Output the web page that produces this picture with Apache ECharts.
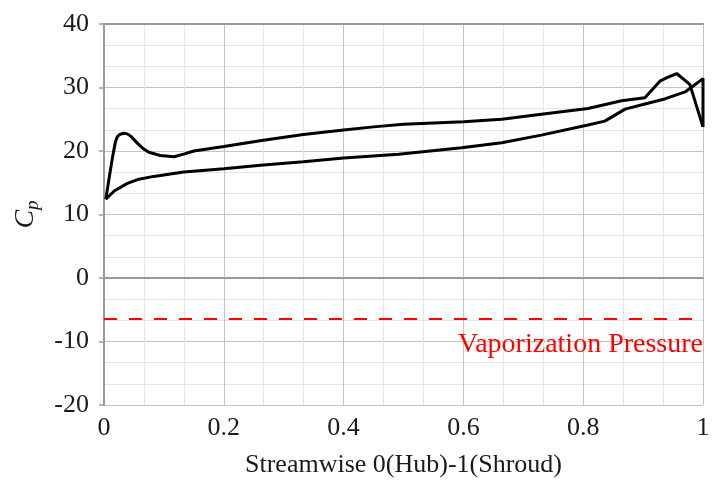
<!DOCTYPE html>
<html>
<head>
<meta charset="utf-8">
<script src="https://cdn.jsdelivr.net/npm/echarts@6/dist/echarts.min.js"></script>
<style>
  html, body { margin: 0; padding: 0; background: #fff; }
  #main { width: 718px; height: 483px; }
</style>
</head>
<body>
<div id="main"></div>
<script>
// suction side (upper branch), streamwise position and Cp
var upperX = [0.003, 0.009, 0.014, 0.019, 0.022, 0.026, 0.033, 0.039, 0.045, 0.056, 0.065, 0.075, 0.094, 0.117, 0.133, 0.15, 0.2, 0.266, 0.333, 0.4, 0.45, 0.5, 0.55, 0.6, 0.664, 0.73, 0.808, 0.864, 0.903, 0.928, 0.939, 0.956, 0.978, 1.0];
var upperY = [12.4, 16.0, 18.9, 21.4, 22.2, 22.6, 22.8, 22.7, 22.3, 21.2, 20.4, 19.8, 19.3, 19.1, 19.5, 20.0, 20.7, 21.7, 22.6, 23.3, 23.8, 24.2, 24.4, 24.6, 25.0, 25.8, 26.7, 27.9, 28.4, 31.0, 31.5, 32.2, 30.5, 23.8];
// pressure side (lower branch)
var lowerX = [0.003, 0.017, 0.039, 0.056, 0.083, 0.133, 0.2, 0.266, 0.333, 0.4, 0.492, 0.597, 0.664, 0.73, 0.808, 0.836, 0.87, 0.903, 0.936, 0.97, 0.983, 1.0, 1.0];
var lowerY = [12.4, 13.7, 14.9, 15.5, 16.0, 16.7, 17.2, 17.8, 18.3, 18.9, 19.5, 20.5, 21.3, 22.5, 24.1, 24.7, 26.6, 27.4, 28.2, 29.3, 30.2, 31.4, 23.8];
var vaporCp = -6.4;
var xTicks = [0, 0.2, 0.4, 0.6, 0.8, 1];
var yTicks = [-20, -10, 0, 10, 20, 30, 40];

var serif = 'Liberation Serif';

function pairs(xs, ys) {
  var out = [];
  for (var i = 0; i < xs.length; i++) out.push([xs[i], ys[i]]);
  return out;
}

var chart = echarts.init(document.getElementById('main'));
var option = {
  animation: false,
  grid: { left: 104, right: 15, top: 24, bottom: 78, outerBoundsMode: 'none', containLabel: false },
  xAxis: [{
    type: 'value',
    min: xTicks[0], max: xTicks[xTicks.length - 1], interval: 0.2,
    name: 'Streamwise 0(Hub)-1(Shroud)',
    nameLocation: 'middle', nameGap: 47,
    nameTextStyle: { fontFamily: serif, fontSize: 26, color: '#1a1a1a' },
    axisLine: { show: true, lineStyle: { color: '#999', width: 2 } },
    axisTick: { show: false },
    axisLabel: {
      fontFamily: serif, fontSize: 26, color: '#1a1a1a', margin: 10,
      formatter: function (v) { return String(v); }
    },
    splitLine: { show: true, lineStyle: { color: '#c4c4c4', width: 1 } },
    minorTick: { show: false, splitNumber: 3 },
    minorSplitLine: { show: true, lineStyle: { color: '#e6e6e6', width: 1 } }
  }, {
    type: 'value', position: 'top',
    min: 0, max: 1,
    axisLine: { show: true, lineStyle: { color: '#999', width: 2 } },
    axisTick: { show: false }, axisLabel: { show: false }, splitLine: { show: false }
  }],
  yAxis: {
    type: 'value',
    min: yTicks[0], max: yTicks[yTicks.length - 1], interval: 10,
    name: '{c|C}{p|p}',
    nameLocation: 'middle', nameGap: 62, nameRotate: 90,
    nameTextStyle: {
      rich: {
        c: { fontFamily: serif, fontSize: 28, fontStyle: 'italic', color: '#1a1a1a' },
        p: { fontFamily: serif, fontSize: 19, fontStyle: 'italic', color: '#1a1a1a', padding: [14, 0, 0, 0] }
      }
    },
    axisLine: { show: true, lineStyle: { color: '#999', width: 2 } },
    axisTick: { show: true, inside: false, length: 5, lineStyle: { color: '#999', width: 1.5 } },
    axisLabel: { fontFamily: serif, fontSize: 26, color: '#1a1a1a', margin: 15 },
    splitLine: { show: true, lineStyle: { color: '#c4c4c4', width: 1 } },
    minorTick: { show: false, splitNumber: 3 },
    minorSplitLine: { show: true, lineStyle: { color: '#e6e6e6', width: 1 } }
  },
  series: [{
    name: 'upper',
    type: 'line',
    data: pairs(upperX, upperY),
    showSymbol: false,
    lineStyle: { color: '#000', width: 3 },
    z: 3
  }, {
    name: 'lower',
    type: 'line',
    data: pairs(lowerX, lowerY),
    showSymbol: false,
    lineStyle: { color: '#000', width: 3 },
    z: 3,
    markLine: {
      silent: true,
      symbol: 'none',
      data: [{ yAxis: vaporCp }],
      lineStyle: { color: '#ff0000', width: 2.2, type: [13, 12] },
      label: {
        show: true,
        position: 'insideEndBottom',
        distance: [0, 12],
        formatter: 'Vaporization Pressure',
        fontFamily: serif, fontSize: 28, color: '#ff0000'
      }
    }
  }]
};
chart.setOption(option);
</script>
</body>
</html>
